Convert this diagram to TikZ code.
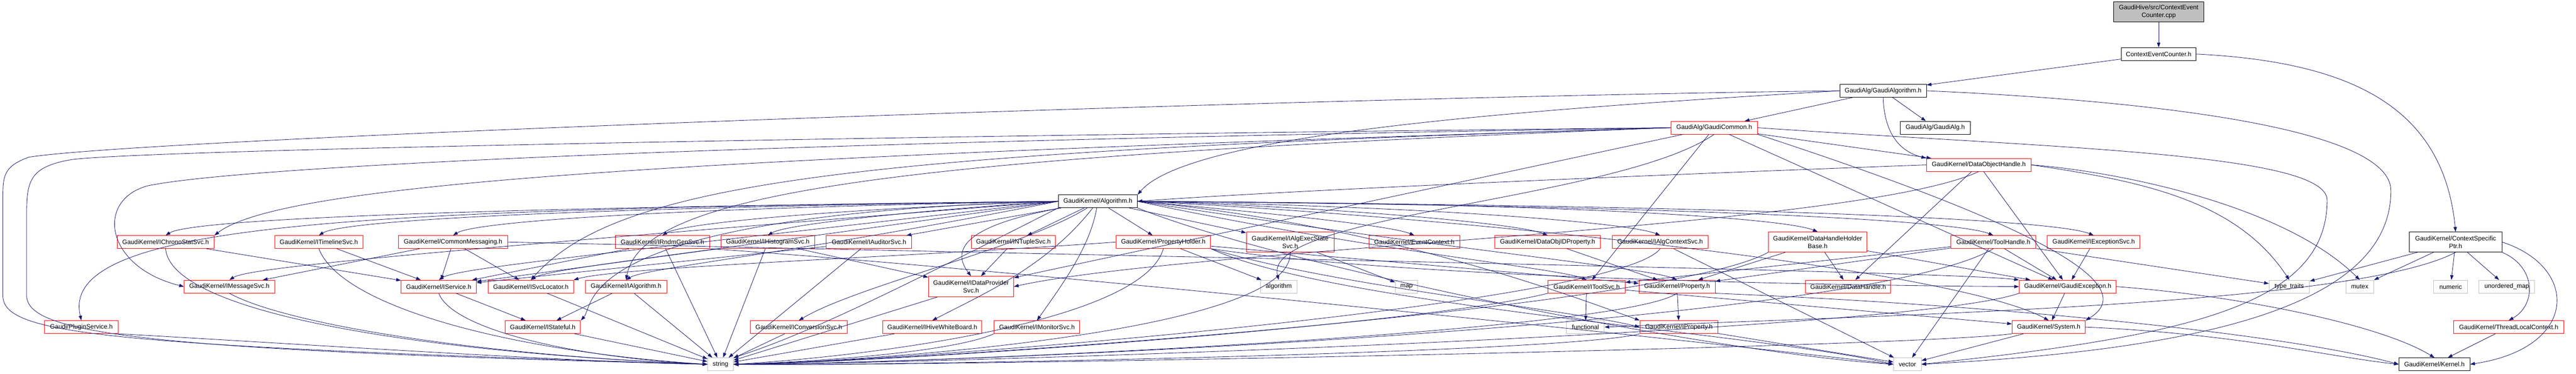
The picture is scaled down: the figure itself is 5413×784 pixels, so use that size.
\documentclass[tikz,border=0pt]{standalone}
\usepackage{fontspec}
\setmainfont{Liberation Sans}
\usetikzlibrary{arrows.meta,calc}
\definecolor{edgec}{HTML}{191970}
\definecolor{redc}{HTML}{FF0000}
\definecolor{grayc}{HTML}{BFBFBF}
\begin{document}
\begin{tikzpicture}[x=1pt,y=-1pt,
  nb/.style={draw, rectangle, line width=1pt, inner sep=0pt, minimum height=27pt,
             font=\fontsize{13.3pt}{16pt}\selectfont, text=black},
  rn/.style={nb, draw=redc},
  gn/.style={nb, draw=grayc},
  kn/.style={nb, draw=black},
  two/.style={minimum height=42pt, align=center},
  e/.style={draw=edgec, line width=0.9pt, -{Triangle[length=10pt,width=7pt]}}]
\useasboundingbox (0,0) rectangle (5413,784);
% rank 0-5
\node[kn, two, fill=grayc, minimum width=190pt] (cpp) at (4536,25) {GaudiHive/src/ContextEvent\\Counter.cpp};
\node[kn, minimum width=158pt] (ceh) at (4536,113.5) {ContextEventCounter.h};
\node[kn, minimum width=182pt] (ga) at (3957,190.5) {GaudiAlg/GaudiAlgorithm.h};
\node[rn, minimum width=182pt] (gc) at (3602,268) {GaudiAlg/GaudiCommon.h};
\node[kn, minimum width=147pt] (galg) at (4066.5,268) {GaudiAlg/GaudiAlg.h};
\node[rn, minimum width=220pt] (doh) at (4158,346) {GaudiKernel/DataObjectHandle.h};
\node[kn, minimum width=166pt] (alg) at (2307,422.5) {GaudiKernel/Algorithm.h};
% rank 6
\node[rn, minimum width=204pt] (ichrono) at (348,508) {GaudiKernel/IChronoStatSvc.h};
\node[rn, minimum width=186pt] (itime) at (670,508) {GaudiKernel/ITimelineSvc.h};
\node[rn, minimum width=230pt] (cmsg) at (952,508) {GaudiKernel/CommonMessaging.h};
\node[rn, minimum width=198pt] (irndm) at (1392,508) {GaudiKernel/IRndmGenSvc.h};
\node[rn, minimum width=197pt] (ihist) at (1613.5,508) {GaudiKernel/IHistogramSvc.h};
\node[rn, minimum width=180pt] (iaud) at (1826,508) {GaudiKernel/IAuditorSvc.h};
\node[rn, minimum width=177pt] (intup) at (2129.5,508) {GaudiKernel/INTupleSvc.h};
\node[rn, minimum width=199pt] (phold) at (2444.5,508) {GaudiKernel/PropertyHolder.h};
\node[rn, two, minimum width=184pt] (iaes) at (2711,508) {GaudiKernel/IAlgExecState\\Svc.h};
\node[rn, minimum width=190pt] (evc) at (2972,508) {GaudiKernel/EventContext.h};
\node[rn, minimum width=222pt] (doid) at (3252,508) {GaudiKernel/DataObjIDProperty.h};
\node[rn, minimum width=201pt] (iacs) at (3488.5,508) {GaudiKernel/IAlgContextSvc.h};
\node[rn, two, minimum width=207pt] (dhhb) at (3819.5,508) {GaudiKernel/DataHandleHolder\\Base.h};
\node[rn, minimum width=179pt] (th) at (4188.5,508) {GaudiKernel/ToolHandle.h};
\node[rn, minimum width=195pt] (iexc) at (4399.5,508) {GaudiKernel/IExceptionSvc.h};
\node[kn, two, minimum width=194pt] (csp) at (5160,508) {GaudiKernel/ContextSpecific\\Ptr.h};
% rank 7
\node[rn, minimum width=190pt] (imsg) at (482,601.5) {GaudiKernel/IMessageSvc.h};
\node[rn, minimum width=158pt] (isvc) at (922,601.5) {GaudiKernel/IService.h};
\node[rn, minimum width=179pt] (isl) at (1115.5,601.5) {GaudiKernel/ISvcLocator.h};
\node[rn, minimum width=171pt] (ialgo) at (1315.5,601.5) {GaudiKernel/IAlgorithm.h};
\node[rn, two, minimum width=179pt, minimum height=43pt] (idp) at (2040.5,601.5) {GaudiKernel/IDataProvider\\Svc.h};
\node[gn, minimum width=76pt] (algo) at (2687,601.5) {algorithm};
\node[gn, minimum width=47pt] (map) at (2955.5,601.5) {map};
\node[rn, minimum width=162pt] (itool) at (3334,601.5) {GaudiKernel/IToolSvc.h};
\node[rn, minimum width=160pt] (prop) at (3524,601.5) {GaudiKernel/Property.h};
\node[rn, minimum width=179pt] (dh) at (3883.5,601.5) {GaudiKernel/DataHandle.h};
\node[rn, minimum width=204pt] (gexc) at (4345,601.5) {GaudiKernel/GaudiException.h};
\node[gn, minimum width=85pt] (tt) at (4810.5,601.5) {type\_traits};
\node[gn, minimum width=59pt] (mutex) at (4958.5,601.5) {mutex};
\node[gn, minimum width=71pt] (numeric) at (5149.5,601.5) {numeric};
\node[gn, minimum width=117pt] (umap) at (5267.5,601.5) {unordered\_map};
% rank 8
\node[rn, minimum width=154pt] (plugin) at (171,686.5) {Gaudi/PluginService.h};
\node[rn, minimum width=159pt] (istate) at (1140.5,686.5) {GaudiKernel/IStateful.h};
\node[rn, minimum width=203pt] (iconv) at (1678.5,686.5) {GaudiKernel/IConversionSvc.h};
\node[rn, minimum width=208pt] (ihive) at (1959,686.5) {GaudiKernel/IHiveWhiteBoard.h};
\node[rn, minimum width=180pt] (imon) at (2179,686.5) {GaudiKernel/IMonitorSvc.h};
\node[gn, minimum width=79pt] (func) at (3331.5,686.5) {functional};
\node[rn, minimum width=164pt] (iprop) at (3528,686.5) {GaudiKernel/IProperty.h};
\node[rn, minimum width=154pt] (sys) at (4305,686.5) {GaudiKernel/System.h};
\node[rn, minimum width=231pt] (tlc) at (5271.5,686.5) {GaudiKernel/ThreadLocalContext.h};
% rank 9
\node[gn, minimum width=54pt] (string) at (1514,764.5) {string};
\node[gn, minimum width=58pt] (vector) at (4008,764.5) {vector};
\node[kn, minimum width=149pt] (kernel) at (5115.5,764.5) {GaudiKernel/Kernel.h};

% ---- edges ----
\draw[e] (cpp) -- (ceh);
\draw[e] (ceh) -- (ga);
\draw[e] (ceh.east) .. controls (4950,130) and (5135,230) .. (csp.north);
\draw[e] (ga) -- (gc);
\draw[e] (ga) -- (galg);
\draw[e] (ga.south) .. controls (3960,290) and (4000,320) .. (doh.north west);
\draw[e] (ga.west) .. controls (3200,230) and (2500,280) .. (alg.north east);
\draw[e] (ga.west) .. controls (2700,205) and (300,290) .. (60,330) .. controls (6,350) and (6,370) .. (6,420) -- (6,620) .. controls (6,700) and (200,725) .. (string.west);
\draw[e] (ga.east) .. controls (4600,215) and (5024,280) .. (5024,400) .. controls (5024,650) and (4600,735) .. (vector.east);
\draw[e] (gc) -- (doh);
\draw[e] (gc.west) .. controls (1800,286) and (300,315) .. (150,335) .. controls (62,350) and (56,380) .. (56,450) -- (56,620) .. controls (56,700) and (300,735) .. (string.west);
\draw[e] (gc.east) .. controls (4300,310) and (4890,320) .. (4890,420) .. controls (4890,640) and (4600,705) .. (vector.east);
\draw[e] (gc.west) .. controls (1500,330) and (600,380) .. (ichrono.north east);
\draw[e] (gc.west) .. controls (1500,300) and (500,350) .. (310,390) .. controls (200,420) and (220,560) .. (imsg.west);
\draw[e] (gc.west) .. controls (1800,320) and (1300,380) .. (isl.north);
\draw[e] (gc.west) .. controls (1900,330) and (1350,400) .. (ialgo.north);
\draw[e] (gc.south) .. controls (3400,420) and (2650,450) .. (algo.north);
\draw[e] (gc) -- (idp);
\draw[e] (gc) -- (itool);
\draw[e] (gc) -- (gexc);
\draw[e] (gc.south east) .. controls (4300,480) and (4500,600) .. (sys.north east);
\draw[e] (doh.west) .. controls (3400,370) and (2700,400) .. (alg.east);
\draw[e] (doh) -- (gexc);
\draw[e] (doh.south) .. controls (3900,480) and (2500,520) .. (idp.east);
\draw[e] (doh.east) .. controls (4500,380) and (4700,420) .. (tt.north);
\draw[e] (doh.east) .. controls (4450,360) and (4800,430) .. (mutex.north);
\draw[e] (doh) -- (dh);
% Algorithm.h : left far targets (run flat, then drop)
\foreach \t in {ichrono,itime,cmsg,irndm,ihist,imsg,isvc,isl,ialgo}
  \draw[e] (alg.west) .. controls ($(\t.north)+(350,-55)$) and ($(\t.north)+(40,-25)$) .. (\t.north);
\draw[e] (alg.west) .. controls (1200,450) and (1250,640) .. (istate.north east);
\foreach \t in {iaud,intup,phold,iaes}
  \draw[e] (alg) -- (\t);
% Algorithm.h : right far targets
\foreach \t in {evc,doid,iacs,dhhb,th,iexc,itool,prop}
  \draw[e] (alg.east) .. controls ($(\t.north)+(-450,-60)$) and ($(\t.north)+(-60,-25)$) .. (\t.north);
\draw[e] (alg.east) .. controls (2900,470) and (3300,620) .. (iprop.north west);
\draw[e] (alg.east) .. controls (3000,450) and (4100,560) .. (sys.north);
\draw[e] (alg.south east) .. controls (2700,560) and (3600,740) .. (vector.west);
\draw[e] (alg) .. controls (2100,460) and (1980,500) .. (idp.north);
\draw[e] (alg) .. controls (2150,520) and (1800,600) .. (iconv.north);
\draw[e] (alg) .. controls (2200,560) and (2060,620) .. (ihive.north);
\draw[e] (alg) .. controls (2290,520) and (2230,600) .. (imon.north);
\draw[e] (alg.west) .. controls (800,440) and (120,460) .. (plugin.north);
\draw[e] (alg.south west) .. controls (1900,600) and (1700,700) .. (string.north east);
% rank 6 sources
\draw[e] (ichrono) -- (isvc);
\draw[e] (ichrono.south) .. controls (360,660) and (900,740) .. (string.west);
\draw[e] (itime) -- (isvc);
\draw[e] (itime.south) .. controls (720,650) and (1100,740) .. (string.west);
\draw[e] (cmsg) -- (imsg);
\draw[e] (cmsg) -- (isvc);
\draw[e] (cmsg) -- (isl);
\draw[e] (cmsg.east) .. controls (2500,540) and (4100,570) .. (gexc.north west);
\draw[e] (irndm) -- (isvc);
\draw[e] (irndm) -- (string);
\draw[e] (irndm.south east) .. controls (2200,570) and (3700,730) .. (vector.west);
\draw[e] (ihist) -- (isvc);
\draw[e] (ihist) -- (idp);
\draw[e] (ihist) -- (string);
\draw[e] (iaud) -- (isvc);
\draw[e] (iaud) -- (string);
\draw[e] (intup) -- (idp);
\draw[e] (phold) -- (algo);
\draw[e] (phold.south east) .. controls (2800,600) and (3300,650) .. (iprop.west);
\draw[e] (phold) -- (prop);
\draw[e] (phold.west) .. controls (1900,540) and (1300,560) .. (isl.north east);
\draw[e] (phold.south east) .. controls (3000,590) and (4000,600) .. (gexc.west);
\draw[e] (phold.south) .. controls (2400,680) and (1800,750) .. (string.east);
\draw[e] (phold.south east) .. controls (2800,640) and (3700,700) .. (vector.west);
\draw[e] (iaes) -- (map);
\draw[e] (iaes.south) .. controls (2720,700) and (1800,760) .. (string.east);
\draw[e] (doid) -- (prop);
\draw[e] (iacs.south) .. controls (3400,640) and (1900,760) .. (string.east);
\draw[e] (iacs) -- (vector);
\draw[e] (dhhb) -- (dh);
\draw[e] (dhhb) -- (gexc);
\draw[e] (dhhb) -- (prop);
\draw[e] (dhhb.south west) .. controls (3500,650) and (1900,760) .. (string.east);
\draw[e] (th) -- (itool);
\draw[e] (th) -- (gexc);
\draw[e] (th) -- (prop);
\draw[e] (th) -- (tt);
\draw[e] (th.south) .. controls (3900,690) and (1900,765) .. (string.east);
\draw[e] (th) -- (vector);
\draw[e] (iexc) -- (gexc);
\draw[e] (csp) -- (tt);
\draw[e] (csp) -- (mutex);
\draw[e] (csp) -- (numeric);
\draw[e] (csp) -- (umap);
\draw[e] (csp.south) .. controls (4950,640) and (4000,660) .. (func.east);
\draw[e] (csp.south east) .. controls (5330,560) and (5330,640) .. (tlc.north);
\draw[e] (csp.east) .. controls (5420,560) and (5420,730) .. (kernel.east);
% rank 7 sources
\draw[e] (imsg.south) .. controls (600,680) and (1000,745) .. (string.west);
\draw[e] (isvc) -- (istate);
\draw[e] (isvc.south) .. controls (950,690) and (1200,750) .. (string.west);
\draw[e] (isl) -- (string);
\draw[e] (ialgo) -- (istate);
\draw[e] (ialgo) -- (string);
\draw[e] (idp) -- (string);
\draw[e] (itool) -- (func);
\draw[e] (itool.south west) .. controls (3000,680) and (1900,760) .. (string.east);
\draw[e] (itool) -- (sys);
\draw[e] (prop) -- (iprop);
\draw[e] (prop.south) .. controls (3400,700) and (1900,765) .. (string.east);
\draw[e] (prop.south east) .. controls (4200,640) and (4800,700) .. (kernel.west);
\draw[e] (gexc) -- (sys);
\draw[e] (gexc.south west) .. controls (4000,700) and (1900,765) .. (string.east);
\draw[e] (gexc.east) .. controls (4700,620) and (5000,680) .. (kernel.north);
% rank 8 sources
\draw[e] (plugin.south east) .. controls (600,720) and (1200,760) .. (string.west);
\draw[e] (istate) -- (string);
\draw[e] (iconv) -- (string);
\draw[e] (ihive) -- (string);
\draw[e] (imon.south west) .. controls (2000,740) and (1700,760) .. (string.east);
\draw[e] (iprop.south west) .. controls (3300,740) and (1900,768) .. (string.east);
\draw[e] (iprop) -- (vector);
\draw[e] (sys) -- (vector);
\draw[e] (sys.south west) .. controls (4000,730) and (1900,770) .. (string.east);
\draw[e] (sys.east) .. controls (4700,700) and (4900,750) .. (kernel.west);
\draw[e] (tlc) -- (kernel);
\end{tikzpicture}
\end{document}
